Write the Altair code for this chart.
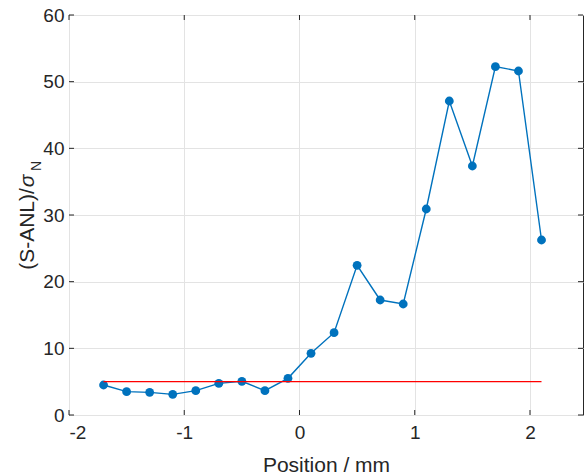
import altair as alt
import pandas as pd

positions = [-1.7, -1.5, -1.3, -1.1, -0.9, -0.7, -0.5, -0.3, -0.1, 0.1,
             0.3, 0.5, 0.7, 0.9, 1.1, 1.3, 1.5, 1.7, 1.9, 2.1]
snr = [4.5, 3.5, 3.4, 3.1, 3.65, 4.75, 5.05, 3.65, 5.5, 9.25,
       12.35, 22.45, 17.25, 16.65, 30.9, 47.1, 37.35, 52.25, 51.6, 26.25]
threshold_x = [-1.7, 2.1]
threshold_y = [5, 5]
x_ticks = [-2, -1, 0, 1, 2]
y_ticks = [0, 10, 20, 30, 40, 50, 60]
y_title_main = "(S-ANL)/"
y_title_sigma = "σ"
y_title_sub = "N"
x_title = "Position / mm"

W, H = 514, 400
FONT = "Liberation Sans"
DARK = "#262626"
BLUE = "#0072BD"
RED = "#FF0000"

df = pd.DataFrame({"x": positions, "y": snr})
thr = pd.DataFrame({"x": threshold_x, "y": threshold_y})
xt = pd.DataFrame({"x": x_ticks})
yt = pd.DataFrame({"y": y_ticks})

xscale = alt.Scale(domain=[-2, 2.46], nice=False, zero=False)
yscale = alt.Scale(domain=[0, 60], nice=False, zero=False)

x_axis = alt.Axis(values=x_ticks, title=x_title, grid=True, ticks=False, domain=False,
                  labelExpr="'' + datum.value", labelPadding=8, titlePadding=12)
y_axis = alt.Axis(values=y_ticks, title=None, grid=True, ticks=False, domain=False,
                  labelExpr="'' + datum.value", labelPadding=5)

X = alt.X("x:Q", scale=xscale, axis=x_axis)
Y = alt.Y("y:Q", scale=yscale, axis=y_axis)

line = alt.Chart(df).mark_line(color=BLUE, strokeWidth=1.4).encode(x=X, y=Y)
pts = alt.Chart(df).mark_circle(color=BLUE, size=78, opacity=1).encode(x=X, y=Y)
red = alt.Chart(thr).mark_line(color=RED, strokeWidth=1.1).encode(x=X, y=Y)

tick_bottom = alt.Chart(xt).mark_rule(color=DARK, strokeWidth=1).encode(
    x=X, y=alt.value(H), y2=alt.value(H - 5))
tick_top = alt.Chart(xt).mark_rule(color=DARK, strokeWidth=1).encode(
    x=X, y=alt.value(0), y2=alt.value(5))
tick_left = alt.Chart(yt).mark_rule(color=DARK, strokeWidth=1).encode(
    y=Y, x=alt.value(0), x2=alt.value(5))
tick_right = alt.Chart(yt).mark_rule(color=DARK, strokeWidth=1).encode(
    y=Y, x=alt.value(W), x2=alt.value(W - 5))

ytitle = alt.Chart(pd.DataFrame({"t": [y_title_main]})).mark_text(
    font=FONT, fontSize=21, color=DARK, angle=270, align="center", baseline="alphabetic"
).encode(text="t:N", x=alt.value(-35), y=alt.value(214))
ysigma = alt.Chart(pd.DataFrame({"t": [y_title_sigma]})).mark_text(
    font=FONT, fontSize=21, fontStyle="italic", color=DARK, angle=270, align="center",
    baseline="alphabetic"
).encode(text="t:N", x=alt.value(-35), y=alt.value(166))
ysub = alt.Chart(pd.DataFrame({"t": [y_title_sub]})).mark_text(
    font=FONT, fontSize=14, color=DARK, angle=270, align="center", baseline="alphabetic"
).encode(text="t:N", x=alt.value(-28), y=alt.value(151))

chart = alt.layer(
    line, pts, red, tick_bottom, tick_top, tick_left, tick_right, ytitle, ysigma, ysub
).properties(
    width=W, height=H,
    autosize=alt.AutoSizeParams(type="none"),
    padding={"left": 69, "top": 15, "right": 1, "bottom": 61},
    background="white",
).configure_view(
    stroke=DARK, strokeWidth=1
).configure_axis(
    labelFont=FONT, labelFontSize=19, labelColor=DARK,
    titleFont=FONT, titleFontSize=21, titleColor=DARK, titleFontWeight="normal",
    gridColor="#E3E3E3", gridWidth=1,
)

chart.save("out.html", embed_options={"renderer": "svg", "actions": False})
